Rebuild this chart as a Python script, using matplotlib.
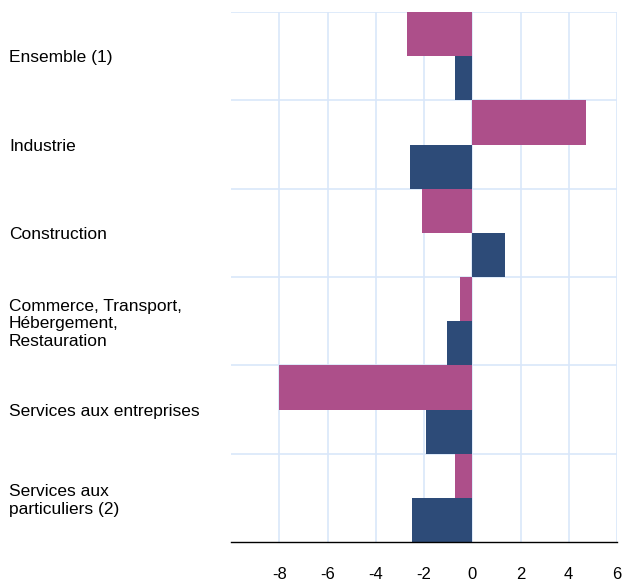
import matplotlib.pyplot as plt
import numpy as np

plt.rcParams['font.family'] = ['Liberation Sans', 'DejaVu Sans']

categories = ['Ensemble (1)', 'Industrie', 'Construction',
              'Commerce, Transport,\nHébergement,\nRestauration',
              'Services aux entreprises', 'Services aux\nparticuliers (2)']
serie_rose = [-2.7, 4.7, -2.1, -0.5, -8.0, -0.7]
serie_bleue = [-0.7, -2.6, 1.35, -1.05, -1.9, -2.5]
xticks = [-8, -6, -4, -2, 0, 2, 4, 6]

fig = plt.figure(figsize=(6.23, 5.81), dpi=100)
ax = fig.add_axes([231/623, 1 - 542/581, 386/623, 530/581])

y = np.arange(len(categories))
ax.barh(y - 0.25, serie_rose, height=0.5, color='#ad4f8a', zorder=3)
ax.barh(y + 0.25, serie_bleue, height=0.5, color='#2d4b78', zorder=3)

ax.set_xlim(-10, 6)
ax.set_ylim(len(categories) - 0.5, -0.5)

ax.set_xticks(xticks)
ax.set_xticklabels([str(v) for v in xticks], fontsize=12)
ax.set_yticks(y)
ax.set_yticklabels(categories, fontsize=12.5, ha='left', linespacing=1.2)
ax.set_yticks(np.arange(len(categories)) - 0.5, minor=True)

ax.tick_params(axis='x', length=0, pad=18)
ax.tick_params(axis='y', which='both', length=0, pad=222 * 72 / 100)

ax.grid(axis='x', color='#d9e7fa', linewidth=1.2, zorder=0)
ax.grid(axis='y', which='minor', color='#d9e7fa', linewidth=1.2, zorder=0)

for s in ['top', 'right', 'left']:
    ax.spines[s].set_visible(False)
ax.spines['bottom'].set_color('black')
ax.spines['bottom'].set_linewidth(1)
ax.spines['bottom'].set_zorder(4)

fig.savefig('out.png', dpi=100)
